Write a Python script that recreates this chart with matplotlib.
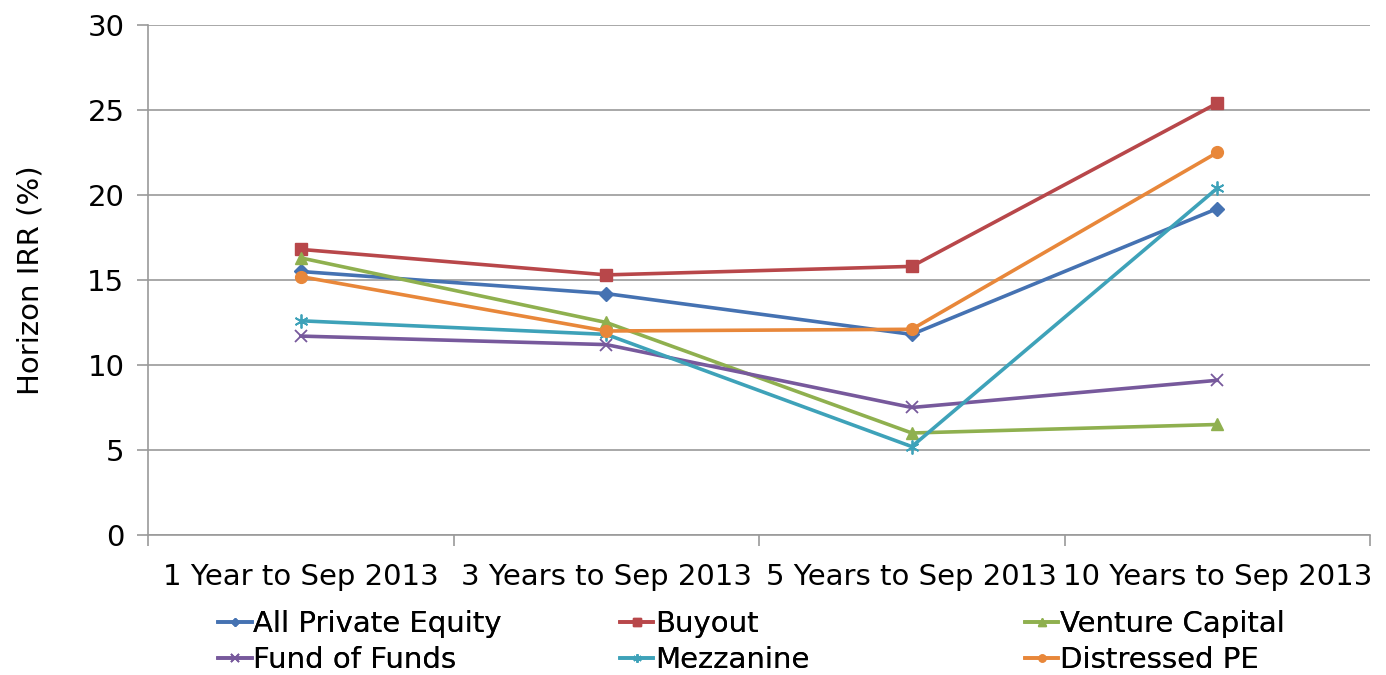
import matplotlib
matplotlib.use("Agg")
import matplotlib.pyplot as plt

categories = ["1 Year to Sep 2013", "3 Years to Sep 2013", "5 Years to Sep 2013", "10 Years to Sep 2013"]
all_pe = [15.5, 14.2, 11.8, 19.2]
buyout = [16.8, 15.3, 15.8, 25.4]
venture = [16.3, 12.5, 6.0, 6.5]
fund_of_funds = [11.7, 11.2, 7.5, 9.1]
mezzanine = [12.6, 11.8, 5.2, 20.4]
distressed = [15.2, 12.0, 12.1, 22.5]

series = [
    ("All Private Equity", all_pe, "#4572B2", "D", 7.5),
    ("Buyout", buyout, "#B8474A", "s", 8.5),
    ("Venture Capital", venture, "#8FB04F", "^", 9),
    ("Fund of Funds", fund_of_funds, "#77599C", "x", 9),
    ("Mezzanine", mezzanine, "#3EA2B9", (6, 2, 0), 10),
    ("Distressed PE", distressed, "#E8873A", "o", 8.5),
]

FS = 21
plt.rcParams['font.family'] = ['DejaVu Sans']
fig = plt.figure(figsize=(13.86, 6.75), dpi=100)
ax = fig.add_axes([0.1068, 0.2074, 0.8817, 0.7556])

x = list(range(len(categories)))
handles = []
for name, vals, col, mk, ms in series:
    kw = dict(color=col, lw=2.6, marker=mk, markersize=ms, label=name)
    if mk in ("x", (6, 2, 0)):
        kw.update(markeredgewidth=1.3)
    ln, = ax.plot(x, vals, **kw)
    handles.append(ln)

ax.set_xlim(-0.5, len(categories) - 0.5)
ax.set_ylim(0, 30)
ax.set_yticks(range(0, 31, 5))
ax.grid(axis='y', color='#9a9a9a', lw=1.2)
ax.set_axisbelow(True)
for s in ("top", "right"):
    ax.spines[s].set_visible(False)
for s in ("left", "bottom"):
    ax.spines[s].set_color('#9a9a9a')
    ax.spines[s].set_linewidth(1.2)

ax.set_xticks([i + 0.5 for i in range(-1, len(categories))], minor=False)
ax.set_xticklabels([])
ax.tick_params(axis='x', which='major', length=8, color='#9a9a9a', width=1.2)
ax.set_xticks(x, minor=True)
ax.set_xticklabels(categories, minor=True, fontsize=FS)
ax.tick_params(axis='x', which='minor', length=0, pad=20)
ax.tick_params(axis='y', length=8, color='#9a9a9a', width=1.2, labelsize=FS, pad=9)
ax.set_ylabel("Horizon IRR (%)", fontsize=FS, labelpad=31)

cols = [(0, 3), (1, 4), (2, 5)]
xpos = [0.1573, 0.4473, 0.7395]
for (a, b), xp in zip(cols, xpos):
    leg = fig.legend(handles=[handles[a], handles[b]], loc='upper left',
                     bbox_to_anchor=(xp, 0.0956), frameon=False,
                     fontsize=FS, handlelength=1.15, handletextpad=0.05,
                     markerscale=0.6, labelspacing=0.27, borderaxespad=0,
                     borderpad=0)
    fig.add_artist(leg)

fig.savefig("out.png", dpi=100)
